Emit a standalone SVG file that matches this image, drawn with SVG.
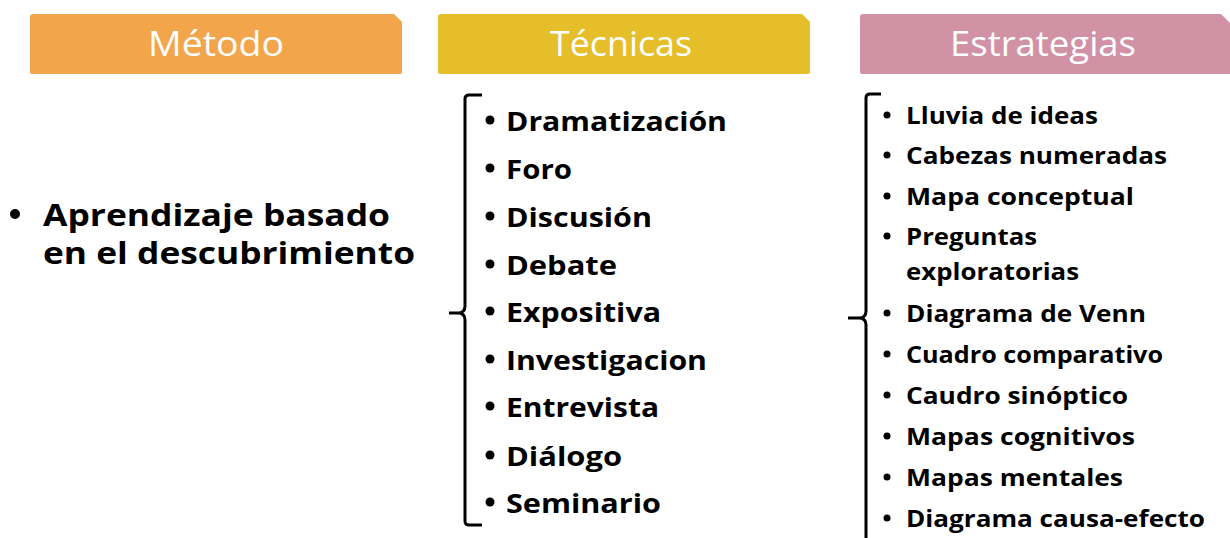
<svg xmlns="http://www.w3.org/2000/svg" width="1230" height="538" viewBox="0 0 1230 538">
<style>
.hdr{font-family:"Open Sans","Noto Sans",sans-serif;font-size:35px;fill:#ffffff;text-anchor:middle}
.big{font-family:"Open Sans","Noto Sans",sans-serif;font-weight:700;font-size:30px;fill:#000}
.tec{font-family:"Open Sans","Noto Sans",sans-serif;font-weight:700;font-size:27px;fill:#000}
.est{font-family:"Open Sans","Noto Sans",sans-serif;font-weight:700;font-size:23px;fill:#000}
.br{fill:none;stroke:#000;stroke-width:3;stroke-linecap:butt;stroke-linejoin:round}
</style>
<rect width="1230" height="538" fill="#ffffff"/>
<g id="hdr-metodo">
<path d="M33,14 H394 L402,22 V72 Q402,74 400,74 H32 Q30,74 30,72 V17 Q30,14 33,14 Z" fill="#F2A54A"/>
<text class="hdr" x="216" y="56" textLength="136" lengthAdjust="spacingAndGlyphs">Método</text>
</g>
<g id="hdr-tecnicas">
<path d="M441,14 H802 L810,22 V72 Q810,74 808,74 H440 Q438,74 438,72 V17 Q438,14 441,14 Z" fill="#E5BE2A"/>
<text class="hdr" x="621" y="56" textLength="142" lengthAdjust="spacingAndGlyphs">Técnicas</text>
</g>
<g id="hdr-estrategias">
<path d="M863,14 H1221 L1230,23 V74 H862 Q860,74 860,72 V17 Q860,14 863,14 Z" fill="#D192A6"/>
<text class="hdr" x="1043" y="56" textLength="186" lengthAdjust="spacingAndGlyphs">Estrategias</text>
</g>
<g id="metodo">
<circle cx="15" cy="214" r="5"/>
<text class="big" x="43" y="226" textLength="347" lengthAdjust="spacingAndGlyphs">Aprendizaje basado</text>
<text class="big" x="43" y="264" textLength="372" lengthAdjust="spacingAndGlyphs">en el descubrimiento</text>
</g>
<g id="connectors">
<path class="br" d="M482,95 H469 Q465,95 465,99 V306 Q465,313 458,313 H449 M458,313 Q465,313 465,320 V521 Q465,525 469,525 H482"/>
<path class="br" d="M881,94 H870 Q866,94 866,98 V311 Q866,318 859,318 H848 M859,318 Q866,318 866,325 V540"/>
</g>
<g id="tecnicas">
<circle cx="490" cy="120" r="4.5"/><text class="tec" x="506" y="131" textLength="221" lengthAdjust="spacingAndGlyphs">Dramatización</text>
<circle cx="490" cy="168" r="4.5"/><text class="tec" x="506" y="179" textLength="66" lengthAdjust="spacingAndGlyphs">Foro</text>
<circle cx="490" cy="216" r="4.5"/><text class="tec" x="506" y="227" textLength="146" lengthAdjust="spacingAndGlyphs">Discusión</text>
<circle cx="490" cy="264" r="4.5"/><text class="tec" x="506" y="275" textLength="111" lengthAdjust="spacingAndGlyphs">Debate</text>
<circle cx="490" cy="311" r="4.5"/><text class="tec" x="506" y="322" textLength="155" lengthAdjust="spacingAndGlyphs">Expositiva</text>
<circle cx="490" cy="359" r="4.5"/><text class="tec" x="506" y="370" textLength="201" lengthAdjust="spacingAndGlyphs">Investigacion</text>
<circle cx="490" cy="406" r="4.5"/><text class="tec" x="506" y="417" textLength="153" lengthAdjust="spacingAndGlyphs">Entrevista</text>
<circle cx="490" cy="455" r="4.5"/><text class="tec" x="506" y="466" textLength="116" lengthAdjust="spacingAndGlyphs">Diálogo</text>
<circle cx="490" cy="502" r="4.5"/><text class="tec" x="506" y="513" textLength="155" lengthAdjust="spacingAndGlyphs">Seminario</text>
</g>
<g id="estrategias">
<circle cx="887" cy="115" r="3.5"/><text class="est" x="906" y="124" textLength="192" lengthAdjust="spacingAndGlyphs">Lluvia de ideas</text>
<circle cx="887" cy="155" r="3.5"/><text class="est" x="906" y="164" textLength="261" lengthAdjust="spacingAndGlyphs">Cabezas numeradas</text>
<circle cx="887" cy="196" r="3.5"/><text class="est" x="906" y="205" textLength="228" lengthAdjust="spacingAndGlyphs">Mapa conceptual</text>
<circle cx="887" cy="236" r="3.5"/><text class="est" x="906" y="245" textLength="131" lengthAdjust="spacingAndGlyphs">Preguntas</text>
<text class="est" x="906" y="280" textLength="173" lengthAdjust="spacingAndGlyphs">exploratorias</text>
<circle cx="887" cy="313" r="3.5"/><text class="est" x="906" y="322" textLength="240" lengthAdjust="spacingAndGlyphs">Diagrama de Venn</text>
<circle cx="887" cy="354" r="3.5"/><text class="est" x="906" y="363" textLength="257" lengthAdjust="spacingAndGlyphs">Cuadro comparativo</text>
<circle cx="887" cy="395" r="3.5"/><text class="est" x="906" y="404" textLength="222" lengthAdjust="spacingAndGlyphs">Caudro sinóptico</text>
<circle cx="887" cy="436" r="3.5"/><text class="est" x="906" y="445" textLength="229" lengthAdjust="spacingAndGlyphs">Mapas cognitivos</text>
<circle cx="887" cy="477" r="3.5"/><text class="est" x="906" y="486" textLength="217" lengthAdjust="spacingAndGlyphs">Mapas mentales</text>
<circle cx="887" cy="518" r="3.5"/><text class="est" x="906" y="527" textLength="299" lengthAdjust="spacingAndGlyphs">Diagrama causa-efecto</text>
</g>
</svg>
